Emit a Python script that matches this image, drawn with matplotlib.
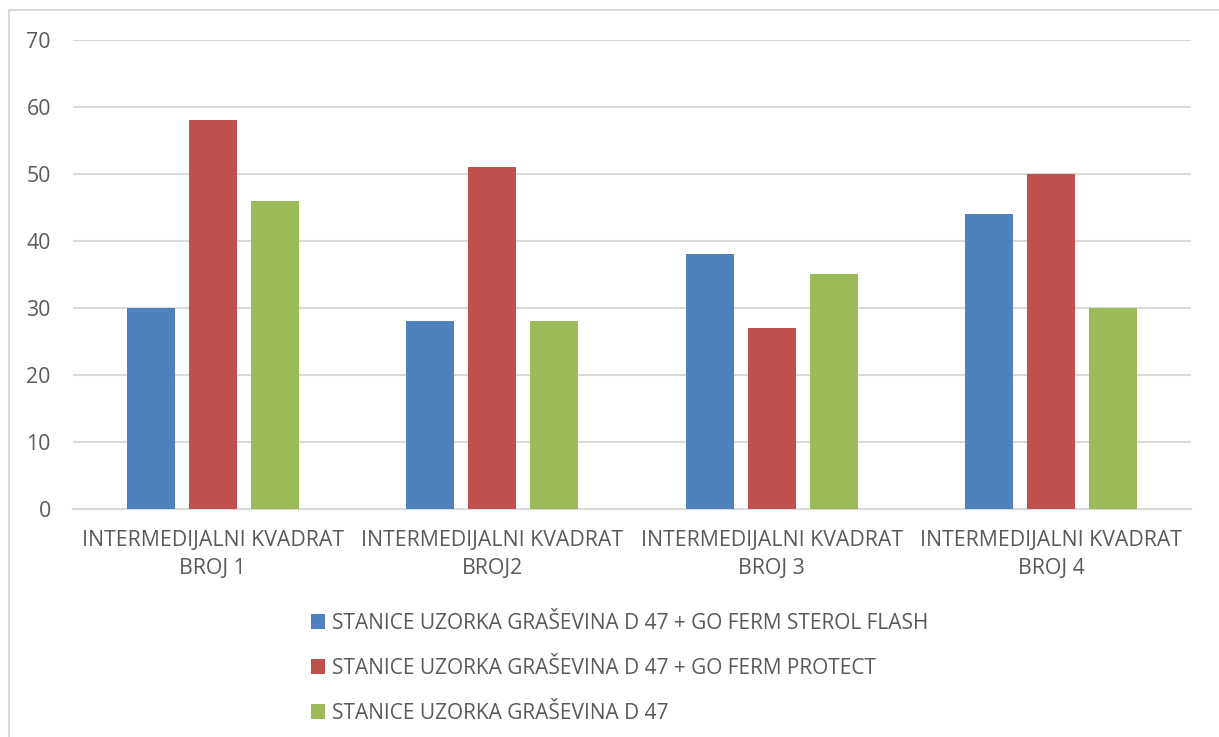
import matplotlib.pyplot as plt
import numpy as np
from matplotlib.patches import Rectangle

categories = ['INTERMEDIJALNI KVADRAT\nBROJ 1', 'INTERMEDIJALNI KVADRAT\nBROJ2',
              'INTERMEDIJALNI KVADRAT\nBROJ 3', 'INTERMEDIJALNI KVADRAT\nBROJ 4']
series_names = ['STANICE UZORKA GRAŠEVINA D 47 + GO FERM STEROL FLASH',
                'STANICE UZORKA GRAŠEVINA D 47 + GO FERM PROTECT',
                'STANICE UZORKA GRAŠEVINA D 47']
sterol_flash = [30, 28, 38, 44]
protect = [58, 51, 27, 50]
d47 = [46, 28, 35, 30]
colors = ['#4f81bd', '#c0504d', '#9bbb59']

plt.rcParams['font.family'] = ['Open Sans', 'DejaVu Sans']
text_color = '#595959'
grid_color = '#d9d9d9'

fig = plt.figure(figsize=(12.19, 7.37), dpi=100)
ax = fig.add_axes([0.0599, 0.3094, 0.917, 0.6363])

x = np.arange(len(categories))
width = 0.172
step = 0.222
for i, (vals, name) in enumerate(zip([sterol_flash, protect, d47], series_names)):
    ax.bar(x + (i - 1) * step, vals, width, color=colors[i], label=name, zorder=3)

ax.set_xlim(-0.5, 3.5)
ax.set_ylim(0, 70)
ax.set_yticks(range(0, 71, 10))
ax.yaxis.grid(True, color=grid_color, linewidth=1.5, zorder=0)
ax.set_axisbelow(True)
for side in ['top', 'right', 'left']:
    ax.spines[side].set_visible(False)
ax.spines['bottom'].set_color(grid_color)
ax.spines['bottom'].set_linewidth(1.5)
ax.set_xticks(x)
ax.set_xticklabels(categories, fontsize=15.3, color=text_color, linespacing=1.45)
ax.tick_params(axis='x', length=0, pad=15)
ax.tick_params(axis='y', length=0, pad=16, labelsize=15.3, labelcolor=text_color)

# chart border
fig.patches.append(Rectangle((9 / 1219, -0.1), 1.2, 1 - 10 / 737 + 0.1,
                             transform=fig.transFigure, fill=False,
                             edgecolor=grid_color, linewidth=1.5))

leg = fig.legend(loc='upper left', bbox_to_anchor=(292 / 1219, 1 - 594 / 737),
                 frameon=False, fontsize=15, labelcolor=text_color,
                 handlelength=0.7, handleheight=0.7, handletextpad=0.3,
                 labelspacing=1.15)

fig.savefig('out.png', dpi=100)
